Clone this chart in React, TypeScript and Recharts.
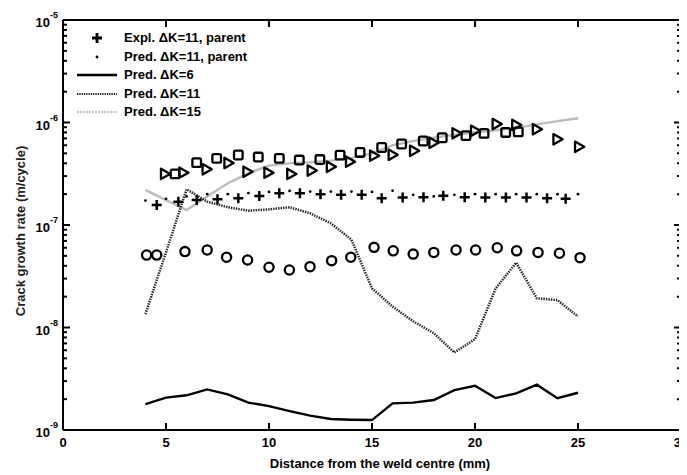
import React from 'react';
import { ComposedChart, Line, Scatter, XAxis, YAxis, Legend, ReferenceLine, Label } from 'recharts';

// ---------- data ----------
const xTicks = [0, 5, 10, 15, 20, 25, 30];
const yMajor = [1e-9, 1e-8, 1e-7, 1e-6, 1e-5];
const yMinorFactors = [2, 3, 4, 5, 6, 7, 8, 9];
const yExponents = ['-9', '-8', '-7', '-6', '-5'];

const legendLabels = [
  'Expl. \u0394K=11, parent',
  'Pred. \u0394K=11, parent',
  'Pred. \u0394K=6',
  'Pred. \u0394K=11',
  'Pred. \u0394K=15',
];

// Pred. ΔK=6 (solid black)
const k6X = [4, 5, 6, 7, 8, 9, 10, 11, 12, 13, 14, 15, 16, 17, 18, 19, 20, 21, 22, 23, 24, 25];
const k6Y = [1.79e-9, 2.07e-9, 2.18e-9, 2.49e-9, 2.23e-9, 1.85e-9, 1.71e-9, 1.53e-9, 1.38e-9, 1.28e-9, 1.26e-9, 1.25e-9,
  1.82e-9, 1.85e-9, 1.96e-9, 2.45e-9, 2.7e-9, 2.05e-9, 2.28e-9, 2.77e-9, 2.04e-9, 2.31e-9];

// Pred. ΔK=11 (dotted)
const k11X = [4, 5, 6, 7, 8, 9, 10, 11, 12, 13, 14, 15, 16, 17, 18, 19, 20, 21, 22, 23, 24, 25];
const k11Y = [1.35e-8, 5.4e-8, 2.23e-7, 1.69e-7, 1.49e-7, 1.38e-7, 1.42e-7, 1.49e-7, 1.3e-7, 1.04e-7, 7.2e-8, 2.41e-8,
  1.6e-8, 1.15e-8, 8.8e-9, 5.7e-9, 7.7e-9, 2.4e-8, 4.29e-8, 1.93e-8, 1.85e-8, 1.28e-8];

// Pred. ΔK=15 (light grey)
const k15X = [4, 5, 6, 7, 8, 9, 10, 11, 12, 13, 14, 15, 16, 17, 18, 19, 20, 21, 22, 23, 24, 25];
const k15Y = [2.2e-7, 1.75e-7, 1.4e-7, 1.9e-7, 2.55e-7, 3.2e-7, 3.8e-7, 4.0e-7, 4.1e-7, 4.25e-7, 4.5e-7, 5.0e-7,
  6.0e-7, 6.6e-7, 7.1e-7, 7.6e-7, 8.0e-7, 8.4e-7, 8.9e-7, 9.6e-7, 1.03e-6, 1.1e-6];

// Pred. ΔK=11, parent (small dots)
const parentPredX = [4, 5, 6, 7, 8, 9, 10, 11, 12, 13, 14, 15, 16, 17, 18, 19, 20, 21, 22, 23, 24, 25];
const parentPredY = [1.73e-7, 1.8e-7, 1.9e-7, 2.0e-7, 2.0e-7, 2.05e-7, 2.1e-7, 2.15e-7, 2.12e-7, 2.12e-7, 2.12e-7, 2.1e-7,
  2.16e-7, 1.97e-7, 1.9e-7, 1.97e-7, 2.0e-7, 2.0e-7, 2.0e-7, 2.0e-7, 2.0e-7, 2.0e-7];

// Expl. ΔK=11, parent (crosses)
const parentExpX = [4.55, 5.6, 6.49, 7.5, 8.51, 9.53, 10.5, 11.5, 12.5, 13.5, 14.5, 15.47, 16.49, 17.5, 18.46, 19.5, 20.5,
  21.5, 22.5, 23.5, 24.4];
const parentExpY = [1.57e-7, 1.69e-7, 1.75e-7, 1.78e-7, 1.82e-7, 1.92e-7, 2.04e-7, 2.04e-7, 2.0e-7, 1.97e-7, 1.97e-7,
  1.82e-7, 1.85e-7, 1.87e-7, 1.93e-7, 1.87e-7, 1.85e-7, 1.85e-7, 1.85e-7, 1.82e-7, 1.8e-7];

// circles
const circX = [4.06, 4.55, 5.92, 7.0, 7.94, 8.96, 10.0, 10.99, 11.99, 13.04, 13.97, 15.1, 16.03, 17.0, 18.0, 19.08, 20.03,
  21.08, 22.02, 23.06, 24.1, 25.1];
const circY = [5.09e-8, 5.09e-8, 5.5e-8, 5.7e-8, 4.84e-8, 4.56e-8, 3.87e-8, 3.64e-8, 3.92e-8, 4.49e-8, 4.84e-8, 6.05e-8,
  5.6e-8, 5.2e-8, 5.4e-8, 5.7e-8, 5.7e-8, 6.0e-8, 5.6e-8, 5.4e-8, 5.3e-8, 4.8e-8];

// triangles
const triX = [4.95, 5.84, 6.97, 8.03, 8.95, 9.97, 11.08, 12.07, 13.0, 13.93, 15.1, 16.0, 17.04, 17.98, 19.1, 20.0, 21.05,
  22.0, 23.0, 24.0, 25.05];
const triY = [3.15e-7, 3.24e-7, 3.5e-7, 4.03e-7, 3.31e-7, 3.24e-7, 3.15e-7, 3.4e-7, 3.7e-7, 4.15e-7, 4.75e-7, 4.85e-7,
  5.3e-7, 6.35e-7, 7.84e-7, 8.3e-7, 9.66e-7, 9.46e-7, 8.6e-7, 6.86e-7, 5.8e-7];

// squares
const sqX = [5.44, 6.49, 7.46, 8.51, 9.48, 10.5, 11.47, 12.47, 13.45, 14.42, 15.47, 16.44, 17.49, 18.41, 19.56, 20.44,
  21.49, 22.1];
const sqY = [3.15e-7, 4.06e-7, 4.47e-7, 4.82e-7, 4.6e-7, 4.47e-7, 4.3e-7, 4.35e-7, 4.8e-7, 5.1e-7, 5.7e-7, 6.17e-7,
  6.6e-7, 7.1e-7, 7.45e-7, 7.84e-7, 8.0e-7, 8.1e-7];

// ---------- helpers ----------
const zip = (xs: number[], ys: number[]) => xs.map((x, i) => ({ x, y: ys[i] }));
const yTicks: number[] = [];
yMajor.forEach((m, i) => {
  yTicks.push(m);
  if (i < yMajor.length - 1) yMinorFactors.forEach((f) => yTicks.push(m * f));
});

const W = 679;
const H = 467;
const M = { top: 12, right: 6, left: 0, bottom: 0 };
const Y_W = 55;
const X_H = 45;
const PLOT_W = W - M.left - M.right - Y_W;
const PLOT_H = H - M.top - M.bottom - X_H;
const FONT = '"Liberation Sans", Arial, sans-serif';

const YTick = (props: any) => {
  const { x, y, payload } = props;
  const v = payload.value;
  const idx = yMajor.findIndex((m) => Math.abs(m - v) / m < 1e-6);
  const major = idx >= 0;
  const len = major ? 7 : 4;
  return (
    <g>
      <line x1={x} y1={y} x2={x + len} y2={y} stroke="#000" strokeWidth={2} />
      <line x1={x + PLOT_W} y1={y} x2={x + PLOT_W - len} y2={y} stroke="#000" strokeWidth={2} />
      {major && (
        <text x={x - 13} y={y + 7} textAnchor="end" fontFamily={FONT} fontWeight="bold" fontSize={13} fill="#000">
          10
        </text>
      )}
      {major && (
        <text x={x - 13} y={y - 2} textAnchor="start" fontFamily={FONT} fontWeight="bold" fontSize={9} fill="#000">
          {yExponents[idx]}
        </text>
      )}
    </g>
  );
};

const XTick = (props: any) => {
  const { x, y, payload } = props;
  return (
    <g>
      {payload.value > 0 && payload.value < 30 && (
        <>
          <line x1={x} y1={y} x2={x} y2={y - 7} stroke="#000" strokeWidth={2} />
          <line x1={x} y1={y - PLOT_H} x2={x} y2={y - PLOT_H + 7} stroke="#000" strokeWidth={2} />
        </>
      )}
      <text x={x} y={y + 17} textAnchor="middle" fontFamily={FONT} fontWeight="bold" fontSize={13} fill="#000">
        {payload.value}
      </text>
    </g>
  );
};

const PlusShape = (p: any) => (
  <path d={`M${p.cx - 5},${p.cy}h10M${p.cx},${p.cy - 5}v10`} stroke="#000" strokeWidth={2.5} fill="none" />
);
const DotShape = (p: any) => <circle cx={p.cx} cy={p.cy} r={1.4} fill="#000" />;
const CircleShape = (p: any) => (
  <circle cx={p.cx} cy={p.cy} r={4.6} stroke="#000" strokeWidth={2.3} fill="none" />
);
const SquareShape = (p: any) => (
  <rect x={p.cx - 4.3} y={p.cy - 4.3} width={8.6} height={8.6} rx={1.5} stroke="#000" strokeWidth={2.3} fill="none" />
);
const TriShape = (p: any) => (
  <path
    d={`M${p.cx - 4},${p.cy - 5.2}L${p.cx + 5.2},${p.cy}L${p.cx - 4},${p.cy + 5.2}Z`}
    stroke="#000"
    strokeWidth={2.3}
    strokeLinejoin="round"
    fill="none"
  />
);

const legendIcon = (i: number) => {
  if (i === 0) return <path d="M20,3v10M15,8h10" stroke="#000" strokeWidth={2.8} />;
  if (i === 1) return <circle cx={20} cy={8} r={1.4} fill="#000" />;
  if (i === 2) return <line x1={0} y1={8} x2={40} y2={8} stroke="#000" strokeWidth={2.4} />;
  if (i === 3) return <line x1={0} y1={8} x2={40} y2={8} stroke="#222" strokeWidth={2.2} strokeDasharray="1.3 1" />;
  return <line x1={0} y1={8} x2={40} y2={8} stroke="#c4c4c4" strokeWidth={2.2} strokeDasharray="2 1" />;
};

const LegendBox = () => (
  <div style={{ fontFamily: FONT, fontWeight: 'bold', fontSize: 13, color: '#000', lineHeight: '18.5px' }}>
    {legendLabels.map((lab, i) => (
      <div key={lab} style={{ display: 'flex', alignItems: 'center', height: 18.5 }}>
        <svg width={42} height={16} style={{ marginRight: 5 }}>
          {legendIcon(i)}
        </svg>
        <span>{lab}</span>
      </div>
    ))}
  </div>
);

export default function App() {
  return (
    <ComposedChart width={W} height={H} margin={M} style={{ background: '#fff' }}>
      <XAxis
        type="number"
        dataKey="x"
        domain={[0, 30]}
        ticks={xTicks}
        interval={0}
        allowDataOverflow
        height={X_H}
        tickSize={0}
        tickMargin={0}
        tickLine={false}
        axisLine={{ stroke: '#000', strokeWidth: 2 }}
        tick={<XTick />}
      >
        <Label
          content={(lp: any) => (
            <text
              x={lp.viewBox.x + lp.viewBox.width / 2 + 8}
              y={lp.viewBox.y + 38}
              textAnchor="middle"
              fontFamily={FONT}
              fontWeight="bold"
              fontSize={13}
              fill="#000"
            >
              Distance from the weld centre (mm)
            </text>
          )}
        />
      </XAxis>
      <YAxis
        type="number"
        dataKey="y"
        scale="log"
        domain={[1e-9, 1e-5]}
        ticks={yTicks}
        interval={0}
        allowDataOverflow
        width={Y_W}
        tickSize={0}
        tickMargin={0}
        tickLine={false}
        axisLine={{ stroke: '#000', strokeWidth: 2 }}
        tick={<YTick />}
      >
        <Label
          content={(lp: any) => {
            const cx = lp.viewBox.x + 14;
            const cy = lp.viewBox.y + lp.viewBox.height / 2 + 6;
            return (
              <text
                x={cx}
                y={cy}
                transform={`rotate(-90 ${cx} ${cy})`}
                textAnchor="middle"
                dominantBaseline="middle"
                fontFamily={FONT}
                fontWeight="bold"
                fontSize={13}
                fill="#222"
              >
                Crack growth rate (m/cycle)
              </text>
            );
          }}
        />
      </YAxis>
      <ReferenceLine y={1e-5} stroke="#000" strokeWidth={2} />
      <ReferenceLine x={30} stroke="#000" strokeWidth={2} />

      <Line data={zip(k15X, k15Y)} dataKey="y" name={legendLabels[4]} stroke="#bcbcbc" strokeWidth={2.4}
        dot={false} isAnimationActive={false} />
      <Line data={zip(k6X, k6Y)} dataKey="y" name={legendLabels[2]} stroke="#000" strokeWidth={2.4}
        dot={false} isAnimationActive={false} />
      <Line data={zip(k11X, k11Y)} dataKey="y" name={legendLabels[3]} stroke="#222" strokeWidth={2.5}
        strokeDasharray="1.4 1.1" dot={false} isAnimationActive={false} />

      <Scatter data={zip(circX, circY)} legendType="none" shape={<CircleShape />} isAnimationActive={false} />
      <Scatter data={zip(sqX, sqY)} legendType="none" shape={<SquareShape />} isAnimationActive={false} />
      <Scatter data={zip(triX, triY)} legendType="none" shape={<TriShape />} isAnimationActive={false} />
      <Scatter data={zip(parentPredX, parentPredY)} name={legendLabels[1]} shape={<DotShape />} isAnimationActive={false} />
      <Scatter data={zip(parentExpX, parentExpY)} name={legendLabels[0]} shape={<PlusShape />} isAnimationActive={false} />

      <Legend
        layout="vertical"
        align="center"
        verticalAlign="middle"
        content={<LegendBox />}
        wrapperStyle={{ left: 69, top: 21, width: 220, height: 95 }}
      />
    </ComposedChart>
  );
}
